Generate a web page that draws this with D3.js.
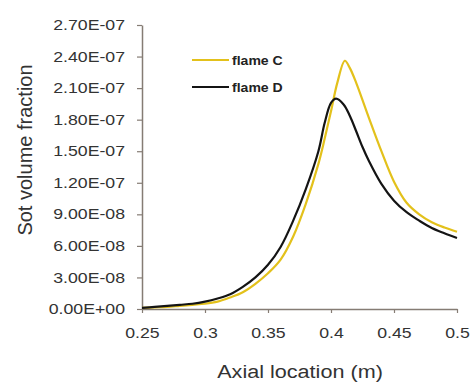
<!DOCTYPE html>
<html>
<head>
<meta charset="utf-8">
<script src="https://cdn.jsdelivr.net/npm/d3@7"></script>
<style>
  body { margin: 0; background: #fff; }
  svg { display: block; font-family: "Liberation Sans", Arial, sans-serif; }
</style>
</head>
<body>
<div id="chart"></div>
<script>
// axial location (m)
const xFlameD = [0.25, 0.26, 0.27, 0.28, 0.29, 0.30, 0.31, 0.32, 0.33, 0.34, 0.35, 0.36, 0.37, 0.38, 0.39, 0.395, 0.40, 0.404, 0.41, 0.415, 0.42, 0.425, 0.43, 0.44, 0.45, 0.46, 0.47, 0.48, 0.49, 0.50];
const yFlameD = [1e-9, 2e-9, 3e-9, 4e-9, 5e-9, 7e-9, 1.0e-8, 1.4e-8, 2.1e-8, 3.0e-8, 4.2e-8, 5.9e-8, 8.4e-8, 1.14e-7, 1.5e-7, 1.77e-7, 1.96e-7, 2.0e-7, 1.945e-7, 1.835e-7, 1.69e-7, 1.54e-7, 1.41e-7, 1.19e-7, 1.03e-7, 9.2e-8, 8.4e-8, 7.7e-8, 7.2e-8, 6.75e-8];

const xFlameC = [0.25, 0.26, 0.27, 0.28, 0.29, 0.30, 0.31, 0.32, 0.33, 0.34, 0.35, 0.36, 0.37, 0.38, 0.39, 0.395, 0.40, 0.405, 0.411, 0.415, 0.42, 0.43, 0.44, 0.45, 0.46, 0.47, 0.48, 0.49, 0.50];
const yFlameC = [1e-9, 1.5e-9, 2e-9, 3e-9, 4e-9, 5e-9, 7e-9, 1.1e-8, 1.6e-8, 2.4e-8, 3.4e-8, 4.7e-8, 6.9e-8, 1.0e-7, 1.38e-7, 1.62e-7, 1.88e-7, 2.15e-7, 2.36e-7, 2.29e-7, 2.15e-7, 1.82e-7, 1.5e-7, 1.21e-7, 1.01e-7, 9.0e-8, 8.25e-8, 7.75e-8, 7.35e-8];

const xTicks = [0.25, 0.3, 0.35, 0.4, 0.45, 0.5];
const yTicks = [0, 3e-8, 6e-8, 9e-8, 1.2e-7, 1.5e-7, 1.8e-7, 2.1e-7, 2.4e-7, 2.7e-7];

const seriesNames = ["flame C", "flame D"];
const seriesColors = ["#e3c11b", "#141414"];

const W = 470, H = 383;
const svg = d3.select("#chart").append("svg")
    .attr("width", W)
    .attr("height", H);

const x = d3.scaleLinear().domain([0.25, 0.5]).range([142, 457]);
const y = d3.scaleLinear().domain([0, 2.7e-7]).range([309, 25]);

// "2.70E-07" style labels
function sci(d) {
    let [m, e] = d.toExponential(2).split("e");
    let sign = e[0];
    let digits = e.slice(1).padStart(2, "0");
    return m + "E" + sign + digits;
}

const axisColor = "#857c74";

const yAxis = svg.append("g")
    .attr("transform", "translate(142,0)")
    .call(d3.axisLeft(y).tickValues(yTicks).tickFormat(sci).tickSize(5).tickSizeOuter(0).tickPadding(12));

const xAxis = svg.append("g")
    .attr("transform", "translate(0,309)")
    .call(d3.axisBottom(x).tickValues(xTicks).tickFormat(d => String(d)).tickSize(4).tickSizeOuter(0).tickPadding(15));

[xAxis, yAxis].forEach(g => {
    g.select(".domain").attr("stroke", axisColor).attr("stroke-width", 1.5);
    g.selectAll(".tick line").attr("stroke", axisColor).attr("stroke-width", 1.2);
    g.selectAll(".tick text")
        .attr("fill", "#333")
        .style("font-size", "14.5px")
        .attr("font-family", "Liberation Sans, Arial, sans-serif");
});

// curves
const line = d3.line()
    .x(d => x(d[0]))
    .y(d => y(d[1]))
    .curve(d3.curveCatmullRom.alpha(0.5));

const dataC = xFlameC.map((v, i) => [v, yFlameC[i]]);
const dataD = xFlameD.map((v, i) => [v, yFlameD[i]]);

svg.append("path")
    .datum(dataC)
    .attr("fill", "none")
    .attr("stroke", seriesColors[0])
    .attr("stroke-width", 2.2)
    .attr("stroke-linejoin", "round")
    .attr("d", line);

svg.append("path")
    .datum(dataD)
    .attr("fill", "none")
    .attr("stroke", seriesColors[1])
    .attr("stroke-width", 2.2)
    .attr("stroke-linejoin", "round")
    .attr("d", line);

// legend
const legend = svg.append("g").attr("class", "legend");
seriesNames.forEach((name, i) => {
    let ly = 60 + i * 27;
    legend.append("line")
        .attr("x1", 192).attr("x2", 229)
        .attr("y1", ly).attr("y2", ly)
        .attr("stroke", seriesColors[i])
        .attr("stroke-width", 2.2);
    legend.append("text")
        .attr("class", "stretch-s")
        .attr("x", 232)
        .attr("y", ly)
        .attr("dy", "0.35em")
        .style("font-size", "13px")
        .style("font-weight", "bold")
        .attr("fill", "#222")
        .text(name);
});

// axis titles
svg.append("text")
    .attr("class", "stretch")
    .attr("x", 300)
    .attr("y", 378)
    .attr("text-anchor", "middle")
    .style("font-size", "18px")
    .attr("fill", "#333")
    .text("Axial location (m)");

svg.append("text")
    .attr("transform", "translate(32,150) rotate(-90)")
    .attr("text-anchor", "middle")
    .style("font-size", "20px")
    .attr("fill", "#333")
    .text("Sot volume fraction");

// the reference type is a bit wide, stretch it horizontally
function stretch(sel, k) {
    sel.each(function() {
        let len = this.getComputedTextLength();
        d3.select(this)
            .attr("textLength", len * k)
            .attr("lengthAdjust", "spacingAndGlyphs");
    });
}
stretch(svg.selectAll(".tick text"), 1.22);
stretch(svg.selectAll("text.stretch"), 1.2);
stretch(svg.selectAll("text.stretch-s"), 1.08);
</script>
</body>
</html>
